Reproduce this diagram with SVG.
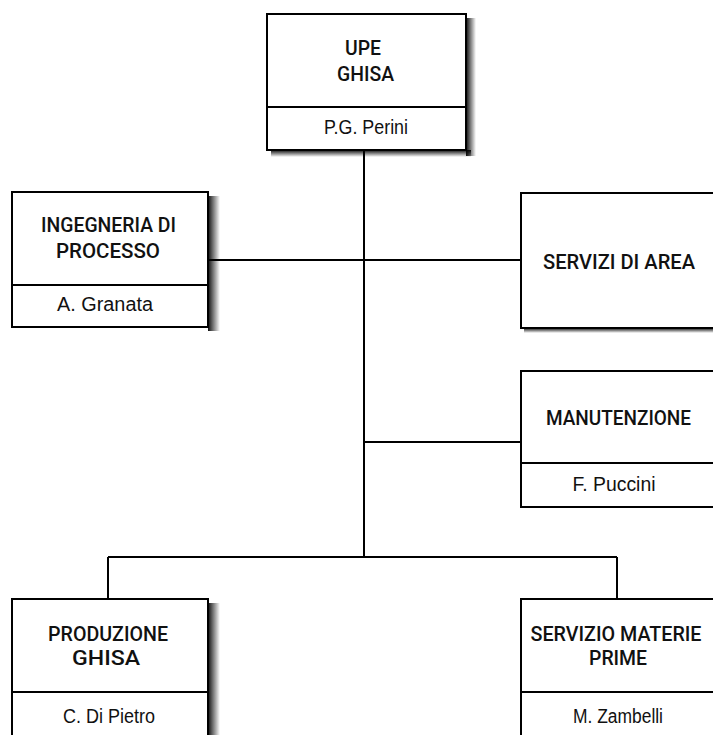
<svg xmlns="http://www.w3.org/2000/svg" width="713" height="735" viewBox="0 0 713 735">
<defs>
<linearGradient id="shR" x1="0" y1="0" x2="1" y2="0">
<stop offset="0" stop-color="#000" stop-opacity="0.95"/>
<stop offset="1" stop-color="#000" stop-opacity="0"/>
</linearGradient>
<linearGradient id="shB" x1="0" y1="0" x2="0" y2="1">
<stop offset="0" stop-color="#000" stop-opacity="0.95"/>
<stop offset="1" stop-color="#000" stop-opacity="0"/>
</linearGradient>
<style>
.box{fill:#fff;stroke:#000;stroke-width:2}
.div{stroke:#000;stroke-width:2}
.ln{stroke:#000;stroke-width:2;fill:none}
.t{font-family:Roboto,"Liberation Sans",Arial,sans-serif;font-size:20.5px;font-weight:500;fill:#111;text-anchor:middle}
.n{font-family:"Liberation Sans",Arial,sans-serif;font-size:20px;fill:#111;text-anchor:middle}
</style>
</defs>
<rect width="713" height="735" fill="#fff"/>
<g id="connectors">
<path class="ln" d="M364,150 V557 M208,260 H521 M364,442 H521 M108,557 H617 M108,557 V599 M617,557 V599"/>
</g>
<g id="upe">
<rect x="466" y="18" width="10" height="138" fill="url(#shR)"/>
<rect x="271" y="150" width="200" height="7" fill="url(#shB)"/>
<rect class="box" x="267" y="14" width="199" height="136"/>
<line class="div" x1="267" y1="107" x2="466" y2="107"/>
<text class="t" x="363" y="55" textLength="36" lengthAdjust="spacingAndGlyphs">UPE</text>
<text class="t" x="365.5" y="81" textLength="57" lengthAdjust="spacingAndGlyphs">GHISA</text>
<text class="n" x="366" y="134" textLength="84" lengthAdjust="spacingAndGlyphs">P.G. Perini</text>
</g>
<g id="ingegneria">
<rect x="208" y="196" width="12" height="135" fill="url(#shR)"/>
<rect class="box" x="12" y="192" width="196" height="135"/>
<line class="div" x1="12" y1="285" x2="208" y2="285"/>
<text class="t" x="108.5" y="232" textLength="135" lengthAdjust="spacingAndGlyphs">INGEGNERIA DI</text>
<text class="t" x="108" y="258" textLength="104" lengthAdjust="spacingAndGlyphs">PROCESSO</text>
<text class="n" x="105" y="311" textLength="96" lengthAdjust="spacingAndGlyphs">A. Granata</text>
</g>
<g id="servizi-area">
<rect x="524" y="328" width="200" height="5" fill="url(#shB)"/>
<rect class="box" x="521" y="193" width="200" height="135"/>
<text class="t" x="619" y="269" textLength="152" lengthAdjust="spacingAndGlyphs">SERVIZI DI AREA</text>
</g>
<g id="manutenzione">
<rect class="box" x="521" y="371" width="200" height="136"/>
<line class="div" x1="521" y1="463" x2="721" y2="463"/>
<text class="t" x="618.5" y="425" textLength="145" lengthAdjust="spacingAndGlyphs">MANUTENZIONE</text>
<text class="n" x="614" y="491" textLength="83" lengthAdjust="spacingAndGlyphs">F. Puccini</text>
</g>
<g id="produzione">
<rect x="208" y="603" width="12" height="140" fill="url(#shR)"/>
<rect class="box" x="12" y="599" width="196" height="145"/>
<line class="div" x1="12" y1="692" x2="208" y2="692"/>
<text class="t" x="108" y="641" textLength="120" lengthAdjust="spacingAndGlyphs">PRODUZIONE</text>
<text class="t" x="106" y="665" textLength="68" lengthAdjust="spacingAndGlyphs">GHISA</text>
<text class="n" x="109" y="723" textLength="92" lengthAdjust="spacingAndGlyphs">C. Di Pietro</text>
</g>
<g id="materie-prime">
<rect class="box" x="521" y="599" width="200" height="145"/>
<line class="div" x1="521" y1="692" x2="721" y2="692"/>
<text class="t" x="616" y="641" textLength="171" lengthAdjust="spacingAndGlyphs">SERVIZIO MATERIE</text>
<text class="t" x="618" y="665" textLength="58" lengthAdjust="spacingAndGlyphs">PRIME</text>
<text class="n" x="618" y="723" textLength="90" lengthAdjust="spacingAndGlyphs">M. Zambelli</text>
</g>
</svg>
